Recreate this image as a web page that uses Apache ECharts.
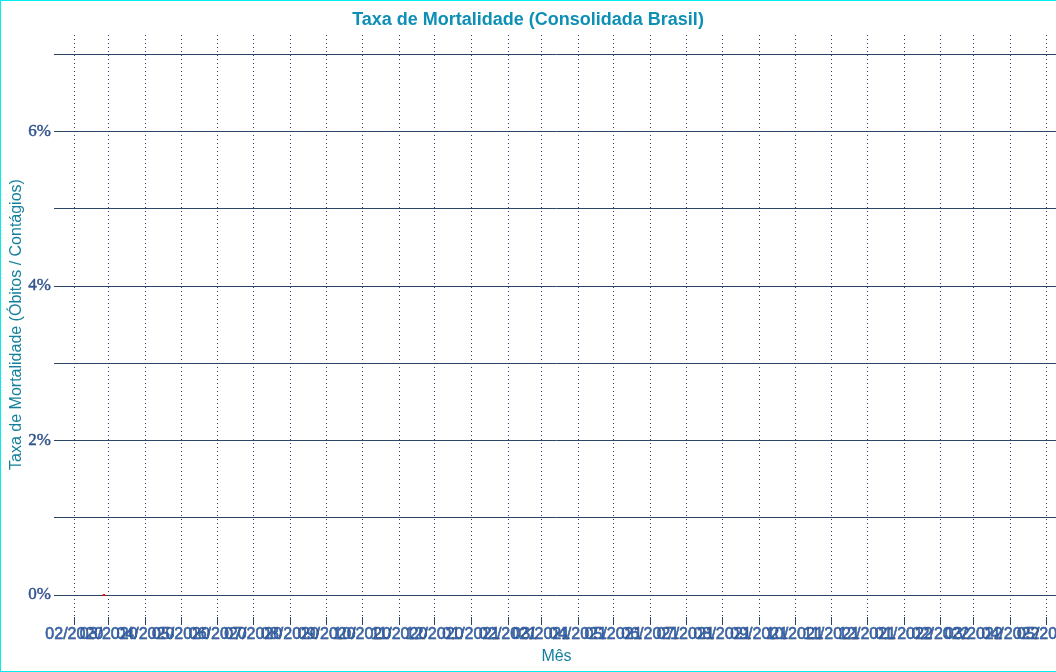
<!DOCTYPE html>
<html>
<head>
<meta charset="utf-8">
<script src="https://cdn.jsdelivr.net/npm/echarts@6/dist/echarts.min.js"></script>
<style>
html,body{margin:0;padding:0;background:#fff;overflow:hidden;}
#chart{position:absolute;left:0;top:0;width:1056px;height:672px;}
#frame{position:absolute;left:0;top:0;width:1070px;height:670px;border:1px solid #00f0f0;pointer-events:none;}
</style>
</head>
<body>
<div id="chart"></div>
<div id="frame"></div>
<script>
// ---- data ----
const dates = ['2020-02-25', '2020-02-26', '2020-02-27'];
const rates = [0, 0, 0]; // percent
const yTicks = [0, 1, 2, 3, 4, 5, 6, 7];
const monthTicks = ['2020-02', '2020-03', '2020-04', '2020-05', '2020-06', '2020-07', '2020-08',
  '2020-09', '2020-10', '2020-11', '2020-12', '2021-01', '2021-02', '2021-03', '2021-04',
  '2021-05', '2021-06', '2021-07', '2021-08', '2021-09', '2021-10', '2021-11', '2021-12',
  '2022-01', '2022-02', '2022-03', '2022-04', '2022-05'];
const titleText = 'Taxa de Mortalidade (Consolidada Brasil)';
const yName = 'Taxa de Mortalidade (Óbitos / Contágios)';
const xName = 'Mês';
const xMin = new Date(2020, 0, 17, 10).getTime();
const xMax = new Date(2022, 4, 9, 10).getTime();

function toTime(s) { const p = s.split('-').map(Number); return new Date(p[0], p[1] - 1, p[2] || 1).getTime(); }
const seriesData = dates.map((d, i) => [toTime(d), rates[i]]);
const monthVals = monthTicks.map(toTime);

const navy = '#2b4566';
const chart = echarts.init(document.getElementById('chart'), null, { renderer: 'canvas' });
chart.setOption({
  animation: false,
  backgroundColor: '#ffffff',
  title: {
    text: titleText, left: 'center', top: 6,
    textStyle: {
      fontFamily: 'Liberation Sans', fontSize: 18, fontWeight: 'bold', color: '#0e8fb6',
      textShadowColor: '#0b2a50', textShadowOffsetX: -1, textShadowOffsetY: 0, textShadowBlur: 0
    }
  },
  grid: [
    { left: 57, right: 0, top: 54, bottom: 77, containLabel: false, outerBoundsMode: 'none' },
    { left: 57, right: 0, top: 35, bottom: 55, containLabel: false, outerBoundsMode: 'none' }
  ],
  xAxis: [
    { type: 'time', gridIndex: 0, min: xMin, max: xMax, show: false },
    {
      type: 'time', gridIndex: 1, min: xMin, max: xMax,
      splitNumber: 30, minInterval: 28 * 86400000, maxInterval: 31 * 86400000,
      name: xName, nameLocation: 'middle', nameGap: 32, nameMoveOverlap: false,
      nameTextStyle: { fontFamily: 'Liberation Sans', fontSize: 16, color: '#15809c' },
      axisLine: { show: false },
      axisTick: { show: true, length: 8, customValues: monthVals, lineStyle: { color: navy, width: 1 } },
      splitLine: { show: true, showMinLine: false, showMaxLine: false, lineStyle: { color: '#1f3f6e', width: 1, type: [1, 3] } },
      axisLabel: {
        interval: 0, hideOverlap: false, margin: 10, showMinLabel: false, showMaxLabel: false,
        customValues: monthVals,
        formatter: '{MM}/{yyyy}',
        fontFamily: 'Liberation Sans', fontSize: 16, color: '#3566b4',
        textBorderColor: '#1d3252', textBorderWidth: 0.5
      }
    }
  ],
  yAxis: [
    {
      type: 'value', gridIndex: 0, min: 0, max: 7, interval: 1,
      name: yName, nameLocation: 'middle', nameGap: 32, nameRotate: 90, nameMoveOverlap: false,
      nameTextStyle: { fontFamily: 'Liberation Sans', fontSize: 16, color: '#15809c' },
      axisLine: { show: false },
      axisTick: { show: true, length: 3, lineStyle: { color: navy } },
      splitLine: { show: true, lineStyle: { color: navy, width: 1 } },
      axisLabel: {
        margin: 6, fontFamily: 'Liberation Serif', fontSize: 17, color: '#2d559c',
        textBorderColor: '#1d3252', textBorderWidth: 0.4,
        formatter: v => (v % 2 === 0 ? v + '%' : '')
      }
    },
    { type: 'value', gridIndex: 1, min: 0, max: 1, show: false }
  ],
  series: [{
    type: 'line', xAxisIndex: 0, yAxisIndex: 0,
    data: seriesData, showSymbol: false, symbol: 'none',
    lineStyle: { color: '#ff0000', width: 2 }, z: 5
  }]
});
</script>
</body>
</html>
